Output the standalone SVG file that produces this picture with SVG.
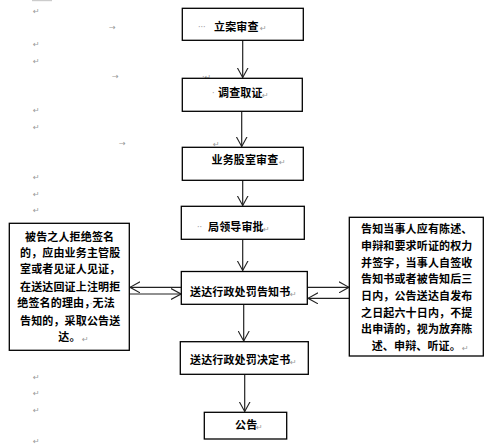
<svg xmlns="http://www.w3.org/2000/svg" width="489" height="446" viewBox="0 0 489 446">
<style>
.box{fill:#fff;stroke:#000;stroke-width:1.3}
.t{font-family:"Noto Sans CJK SC","Liberation Sans",sans-serif;font-size:11px;font-weight:bold;fill:#000;letter-spacing:0.15px}
.m{font-family:"DejaVu Sans",sans-serif;font-size:8px;fill:#999}
.ln{stroke:#222;stroke-width:1.2;fill:none}
</style>
<defs>
<marker id="ah" viewBox="0 0 10 12" refX="10" refY="6" markerWidth="10" markerHeight="12" markerUnits="userSpaceOnUse" orient="auto">
<path d="M0,0.5 L10,6 L0,11.5" fill="none" stroke="#222" stroke-width="1.1"/>
</marker>
</defs>
<rect x="32" y="0" width="20" height="1.2" fill="#ccc"/>
<g id="marks">
<text class="m" x="33" y="14">↵</text>
<text class="m" x="33" y="47">↵</text>
<text class="m" x="33" y="64">↵</text>
<text class="m" x="33" y="113">↵</text>
<text class="m" x="33" y="130">↵</text>
<text class="m" x="33" y="180">↵</text>
<text class="m" x="33" y="197">↵</text>
<text class="m" x="33" y="213">↵</text>
<text class="m" x="33" y="347">↵</text>
<text class="m" x="33" y="380">↵</text>
<text class="m" x="33" y="396">↵</text>
<text class="m" x="33" y="413">↵</text>
<text class="m" x="33" y="443.5">↵</text>
<text class="m" x="109" y="30">→</text>
<text class="m" x="112" y="79">→</text>
<text class="m" x="119" y="146">→</text>
<text class="m" x="110" y="227">→</text>
<text class="m" x="202" y="80">·↵</text>
<text class="m" x="213" y="147">↵</text>
</g>
<g id="connectors">
<line class="ln" x1="242.7" y1="40.5" x2="242.7" y2="77.5" marker-end="url(#ah)"/>
<line class="ln" x1="241.7" y1="111.5" x2="241.7" y2="146.5" marker-end="url(#ah)"/>
<line class="ln" x1="242.7" y1="180.5" x2="242.7" y2="205.5" marker-end="url(#ah)"/>
<line class="ln" x1="242.7" y1="239.5" x2="242.7" y2="270.5" marker-end="url(#ah)"/>
<line class="ln" x1="243.7" y1="304.5" x2="243.7" y2="341" marker-end="url(#ah)"/>
<line class="ln" x1="244.7" y1="374.5" x2="244.7" y2="411.5" marker-end="url(#ah)"/>
<line class="ln" x1="181" y1="287.3" x2="130" y2="287.3" marker-end="url(#ah)"/>
<line class="ln" x1="129.5" y1="294" x2="181" y2="294" marker-end="url(#ah)"/>
<line class="ln" x1="307.5" y1="287.3" x2="349" y2="287.3" marker-end="url(#ah)"/>
<line class="ln" x1="349" y1="298.3" x2="308" y2="298.3" marker-end="url(#ah)"/>
</g>
<g id="n1">
<rect class="box" x="182.3" y="8.3" width="121" height="32"/>
<text class="m" x="198" y="30">···</text>
<text class="t" x="214" y="31">立案审查</text>
<text class="m" x="260" y="31">↵</text>
</g>
<g id="n2">
<rect class="box" x="182.3" y="78.3" width="120" height="33"/>
<text class="m" x="212" y="96">·</text>
<text class="t" x="218" y="97">调查取证</text>
<text class="m" x="262" y="98">↵</text>
</g>
<g id="n3">
<rect class="box" x="182.3" y="147.3" width="121" height="33"/>
<text class="t" x="211.5" y="164">业务股室审查</text>
<text class="m" x="279" y="165">↵</text>
</g>
<g id="n4">
<rect class="box" x="181.3" y="206.3" width="123" height="33"/>
<text class="m" x="197" y="230">··</text>
<text class="t" x="208" y="231">局领导审批</text>
<text class="m" x="263" y="232">↵</text>
</g>
<g id="n5">
<rect class="box" x="181.3" y="271.5" width="126" height="32.8"/>
<text class="t" x="190" y="296">送达行政处罚告知书</text>
<text class="m" x="290" y="297">↵</text>
</g>
<g id="n6">
<rect class="box" x="180.3" y="341.7" width="128" height="32.6"/>
<text class="t" x="190" y="364">送达行政处罚决定书</text>
<text class="m" x="290" y="365">↵</text>
</g>
<g id="n7">
<rect class="box" x="204.3" y="412.3" width="82.4" height="26.7"/>
<text class="t" x="235" y="429">公告</text>
<text class="m" x="256" y="430">↵</text>
</g>
<g id="left">
<rect class="box" x="9.3" y="223.3" width="120" height="127"/>
<text class="t" x="25" y="241.3">被告之人拒绝签名</text>
<text class="t" x="20" y="257.3">的，应由业务主管股</text>
<text class="t" x="20" y="273.3">室或者见证人见证，</text>
<text class="t" x="20" y="290.7">在送达回证上注明拒</text>
<text class="t" x="17.3" y="307.3">绝签名的理由，<tspan class="m" font-weight="normal">·</tspan>无法</text>
<text class="t" x="20" y="324.7">告知的，采取公告送</text>
<text class="t" x="58.3" y="341.3">达。</text>
<text class="m" x="82" y="342">↵</text>
</g>
<g id="right">
<rect class="box" x="349.3" y="217.3" width="134" height="138.7"/>
<text class="t" x="361" y="233.3">告知当事人应有陈述、</text>
<text class="t" x="361" y="250">申辩和要求听证的权力</text>
<text class="t" x="361" y="267.3">并签字，当事人自签收</text>
<text class="t" x="361" y="283.3">告知书或者被告知后三</text>
<text class="t" x="361" y="300.3">日内，公告送达自发布</text>
<text class="t" x="361" y="317.3">之日起六十日内，不提</text>
<text class="t" x="361" y="333.3">出申请的，视为放弃陈</text>
<text class="t" x="371.7" y="350">述、申辩、听证。</text>
<text class="m" x="462" y="351">↵</text>
</g>
</svg>
